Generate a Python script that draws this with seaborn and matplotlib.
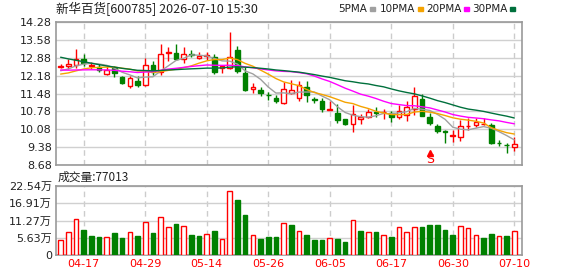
import numpy as np
import pandas as pd
import seaborn as sns
import matplotlib

matplotlib.use('Agg')
import matplotlib.pyplot as plt
from matplotlib.patches import Rectangle

# trading days shown (MM-DD)
dates = ['04-14', '04-15', '04-16', '04-17', '04-20', '04-21', '04-22', '04-23', '04-24',
         '04-27', '04-28', '04-29', '04-30', '05-06', '05-07', '05-08', '05-11', '05-12',
         '05-13', '05-14', '05-15', '05-18', '05-19', '05-20', '05-21', '05-22', '05-25',
         '05-26', '05-27', '05-28', '05-29', '06-01', '06-02', '06-03', '06-04', '06-05',
         '06-08', '06-09', '06-10', '06-11', '06-12', '06-15', '06-16', '06-17', '06-18',
         '06-22', '06-23', '06-24', '06-25', '06-26', '06-29', '06-30', '07-01', '07-02',
         '07-03', '07-06', '07-07', '07-08', '07-09', '07-10']

open_ = [12.52, 12.56, 12.61, 12.83, 12.55, 12.52, 12.23, 12.46, 12.11, 11.78,
         11.98, 11.82, 12.58, 12.31, 13.06, 13.05, 12.85, 13.02, 12.88, 12.94,
         12.92, 12.49, 12.47, 13.18, 12.29, 11.66, 11.62, 11.44, 11.32, 11.10,
         11.50, 11.30, 11.72, 11.25, 11.20, 10.84, 10.72, 10.47, 10.29, 10.47,
         10.57, 10.75, 10.74, 10.73, 10.55, 10.62, 10.86, 11.25, 10.55, 10.21,
         10.03, 9.80, 9.79, 10.19, 10.26, 10.28, 10.25, 9.56, 9.47, 9.38]
high = [12.62, 12.84, 13.21, 13.01, 12.73, 12.62, 12.54, 12.56, 12.18, 12.17,
        12.18, 12.87, 12.76, 13.43, 13.30, 13.41, 13.30, 13.17, 13.10, 13.10,
        13.02, 12.58, 13.88, 13.33, 12.50, 11.90, 11.75, 11.55, 11.42, 11.94,
        12.00, 11.96, 11.95, 11.35, 11.29, 11.20, 11.08, 10.50, 11.03, 10.66,
        10.86, 10.94, 10.86, 10.81, 11.03, 11.18, 11.75, 11.46, 10.72, 10.29,
        10.05, 10.07, 10.44, 10.52, 10.52, 10.54, 10.34, 9.64, 9.55, 9.79]
low = [12.46, 12.44, 12.46, 12.55, 12.44, 12.31, 12.21, 12.14, 11.86, 11.70,
       11.72, 11.77, 12.19, 12.19, 12.75, 12.78, 12.67, 12.91, 12.84, 12.80,
       12.26, 12.30, 12.44, 12.27, 11.56, 11.50, 11.38, 11.23, 11.12, 11.08,
       11.45, 11.20, 11.16, 11.10, 10.77, 10.84, 10.32, 10.25, 9.98, 10.30,
       10.51, 10.57, 10.50, 10.38, 10.49, 10.40, 10.63, 10.58, 10.25, 9.93,
       9.55, 9.58, 9.63, 10.05, 10.18, 10.23, 9.52, 9.43, 9.16, 9.24]
close = [12.54, 12.65, 12.85, 12.69, 12.59, 12.39, 12.40, 12.28, 11.90, 12.07,
         11.80, 12.58, 12.32, 13.02, 13.09, 12.85, 13.02, 12.98, 12.95, 12.97,
         12.33, 12.56, 12.92, 12.38, 11.63, 11.75, 11.50, 11.41, 11.20, 11.66,
         11.60, 11.81, 11.42, 11.21, 10.86, 10.87, 10.44, 10.30, 10.68, 10.57,
         10.77, 10.72, 10.77, 10.57, 10.81, 10.96, 11.38, 10.60, 10.34, 10.03,
         9.99, 9.84, 10.21, 10.22, 10.35, 10.30, 9.53, 9.54, 9.45, 9.50]
# shares traded (lots)
volume = [49000, 74000, 116500, 81700, 62100, 58800, 57700, 71900, 55500, 75100,
          62100, 106700, 71900, 123100, 90400, 101300, 93700, 65300, 62100, 67500,
          78400, 51200, 208000, 179700, 130700, 64300, 52300, 58800, 58800, 103500,
          98000, 77300, 65300, 49000, 49000, 54500, 52300, 42500, 114300, 78400,
          75100, 75100, 64300, 58800, 90400, 75100, 90400, 91500, 98000, 98000,
          81700, 65300, 93700, 87100, 64300, 55500, 68600, 62100, 62100, 77013]
# closes before the window, estimated from where the MA lines start
prior_closes = [14.60, 14.50, 14.40, 14.30, 14.10, 13.90, 13.60, 13.40, 13.20, 13.00,
                12.80, 12.70, 12.60, 12.50, 12.45, 12.50, 12.55, 12.60, 12.50, 12.40,
                12.20, 12.05, 11.95, 12.10, 12.25, 12.30, 12.25, 12.35, 12.42]

price_ticks = [8.68, 9.38, 10.08, 10.78, 11.48, 12.18, 12.88, 13.58, 14.28]
vol_ticks = [0, 56350, 112700, 169050, 225400]
vol_labels = ['0', '5.63万', '11.27万', '16.91万', '22.54万']
sell_signals = [48]
ma_periods = [5, 10, 20, 30]
ma_colors = ['#a0a0a0', '#f5a300', '#ff00ff', '#00703c']

sns.set_style('white')
plt.rcParams['font.family'] = ['DejaVu Sans', 'Noto Sans CJK SC']

RED = '#ff0000'
GREEN = '#008000'
W, H = 578, 276

df = pd.DataFrame({'date': dates, 'open': open_, 'high': high, 'low': low,
                   'close': close, 'volume': volume})
df['idx'] = np.arange(len(df))
allc = pd.Series(prior_closes + close)
for p in ma_periods:
    df['ma%d' % p] = allc.rolling(p).mean().iloc[len(prior_closes):].values

up = df['close'] > df['open']
cand_col = np.where(up, RED, GREEN)
prev = pd.Series(prior_closes[-1:] + close[:-1])
vol_col = np.where(df['close'].values >= prev.values, RED, GREEN)

fig = plt.figure(figsize=(W / 100, H / 100), dpi=100)
ax = fig.add_axes([56 / W, 1 - 165 / H, 466 / W, 143 / H])
axv = fig.add_axes([56 / W, 1 - 255 / H, 466 / W, 69 / H])

tick_idx = list(range(3, len(df), 8))
for a in (ax, axv):
    a.set_xlim(-0.6, len(df))
    a.set_xticks(tick_idx)
    a.grid(axis='x', color='#cccccc', lw=1, ls=(0, (4, 3)))
    a.grid(axis='y', color='#d0d0d0', lw=1, ls='-')
    a.set_axisbelow(True)
    for s in a.spines.values():
        s.set_color('#999999')
        s.set_linewidth(1.2)
    a.tick_params(length=0, labelsize=8, pad=3, colors='#222222')

# candles
ax.vlines(df['idx'], df['low'], df['high'], colors=cand_col, lw=1, zorder=3)
body = (df['close'] - df['open']).abs().clip(lower=0.012)
ax.bar(df['idx'], body, bottom=df[['open', 'close']].min(axis=1), width=0.6,
       facecolor=np.where(up, 'white', GREEN), edgecolor=cand_col, lw=1, zorder=4)

for p, c in zip(ma_periods, ma_colors):
    sns.lineplot(data=df, x='idx', y='ma%d' % p, color=c, lw=1, ax=ax, zorder=5)

ax.set_ylim(price_ticks[0], price_ticks[-1])
ax.set_yticks(price_ticks)
ax.set_yticklabels(['%.2f' % t for t in price_ticks])
ax.set_xticklabels([])
ax.set_xlabel('')
ax.set_ylabel('')

# sell signal marks
for i in sell_signals:
    ax.plot(i, 0.085, marker='^', ms=4, color=RED, transform=ax.get_xaxis_transform(), zorder=6)
    ax.text(i, 0.04, 'S', color=RED, fontsize=9, ha='center', va='center',
            transform=ax.get_xaxis_transform(), zorder=6)

# volume
axv.bar(df['idx'], df['volume'], width=0.6, facecolor=np.where(vol_col == RED, 'white', GREEN),
        edgecolor=vol_col, lw=1, zorder=3)
axv.set_ylim(vol_ticks[0], vol_ticks[-1])
axv.set_yticks(vol_ticks)
axv.set_yticklabels(vol_labels)
axv.set_xticklabels([df['date'][i] for i in tick_idx], color=RED)

fig.text(56 / W, 1 - 9 / H, '新华百货[600785] 2026-07-10 15:30', fontsize=9,
         family=['Noto Sans CJK SC', 'DejaVu Sans'], va='center', color='#222222')
fig.text(58 / W, 1 - 177 / H, '成交量:%d' % volume[-1], fontsize=8.5,
         family=['Noto Sans CJK SC', 'DejaVu Sans'], va='center', color='#222222')

# legend: label then a small colour block
fig.canvas.draw()
rend = fig.canvas.get_renderer()
leg_x = [338, 380, 426, 472]
for x0, p, c in zip(leg_x, ma_periods, ma_colors):
    t = fig.text(x0 / W, 1 - 9 / H, '%dPMA' % p, fontsize=7.5, va='center', color='#222222')
    x1 = t.get_window_extent(rend).x1
    fig.patches.append(Rectangle(((x1 + 3) / W, 1 - 11 / H), 5 / W, 4 / H, color=c,
                                 transform=fig.transFigure, figure=fig))

fig.savefig('out.png', dpi=100)
